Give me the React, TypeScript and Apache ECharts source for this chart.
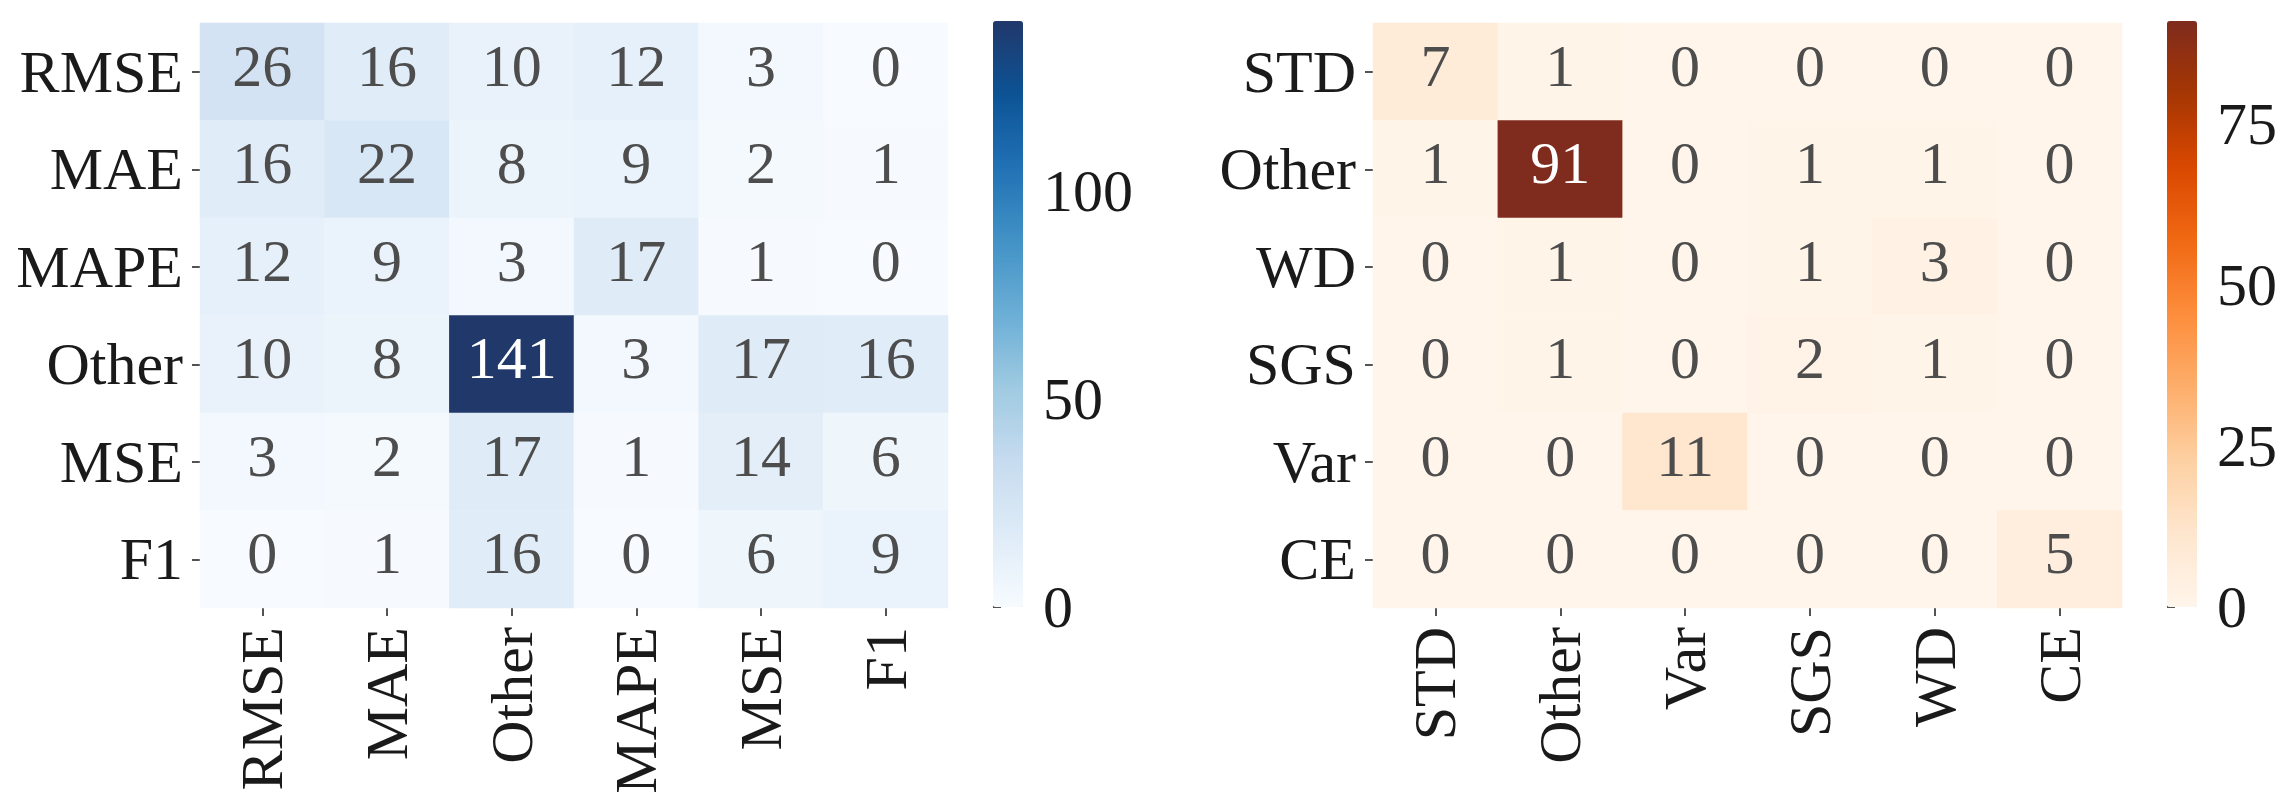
import React, { useEffect, useRef } from "react";
import * as echarts from "echarts";

const leftRows = ["RMSE", "MAE", "MAPE", "Other", "MSE", "F1"];
const leftCols = ["RMSE", "MAE", "Other", "MAPE", "MSE", "F1"];
const leftValues = [
  [26, 16, 10, 12, 3, 0],
  [16, 22, 8, 9, 2, 1],
  [12, 9, 3, 17, 1, 0],
  [10, 8, 141, 3, 17, 16],
  [3, 2, 17, 1, 14, 6],
  [0, 1, 16, 0, 6, 9],
];
const leftTicks = [0, 50, 100];

const rightRows = ["STD", "Other", "WD", "SGS", "Var", "CE"];
const rightCols = ["STD", "Other", "Var", "SGS", "WD", "CE"];
const rightValues = [
  [7, 1, 0, 0, 0, 0],
  [1, 91, 0, 1, 1, 0],
  [0, 1, 0, 1, 3, 0],
  [0, 1, 0, 2, 1, 0],
  [0, 0, 11, 0, 0, 0],
  [0, 0, 0, 0, 0, 5],
];
const rightTicks = [0, 25, 50, 75];

const BLUES = ["#f7fbff", "#deebf7", "#c6dbef", "#9ecae1", "#6baed6", "#4292c6", "#2171b5", "#0c5395", "#21386b"];
const ORANGES = ["#fff5eb", "#fee6ce", "#fdd0a2", "#fdae6b", "#fd8d3c", "#f16913", "#d94801", "#a63603", "#7f2b1d"];

const FONT = "'Liberation Serif', 'DejaVu Serif', serif";
const FS = 60;

function toData(m: number[][]) {
  const max = Math.max(...m.flat());
  const out: any[] = [];
  m.forEach((row, y) =>
    row.forEach((v, x) => {
      out.push({ value: [x, y, v], label: { color: v / max > 0.6 ? "#ffffff" : "#4d4d4d" } });
    })
  );
  return out;
}

export default function App() {
  const ref = useRef<HTMLDivElement>(null);
  useEffect(() => {
    const chart = echarts.init(ref.current!, null, { renderer: "svg" });
    const leftMax = Math.max(...leftValues.flat());
    const rightMax = Math.max(...rightValues.flat());
    const catAxisCommon = {
      type: "category" as const,
      axisLine: { show: false },
      axisTick: { show: true, length: 8, alignWithLabel: true, lineStyle: { color: "#1a1a1a", width: 1.5 } },
      splitLine: { show: false },
      splitArea: { show: false },
    };
    const labelFont = { fontFamily: FONT, fontSize: FS, color: "#1a1a1a" };
    const cbAxis = (gi: number, max: number, ticks: number[]) => ({
      type: "value" as const,
      gridIndex: gi,
      position: "right" as const,
      min: 0,
      max,
      axisLine: { show: false },
      splitLine: { show: false },
      axisTick: { show: true, length: 8, customValues: ticks, lineStyle: { color: "#1a1a1a", width: 1.5 } },
      axisLabel: { ...labelFont, margin: 20, customValues: ticks, padding: [4, 0, 0, 0] },
    });
    const cellLabel = {
      show: true,
      fontFamily: FONT,
      fontSize: FS,
      offset: [0, -6],
      formatter: (p: any) => String(p.value[2]),
    };
    const option: any = {
      animation: false,
      backgroundColor: "#ffffff",
      grid: [
        { left: 200, top: 23, width: 748, height: 585 },
        { left: 1373, top: 23, width: 749, height: 585 },
        { left: 993, top: 21, width: 30, height: 586 },
        { left: 2167, top: 21, width: 30, height: 586 },
      ],
      xAxis: [
        { ...catAxisCommon, gridIndex: 0, data: leftCols, axisLabel: { ...labelFont, rotate: 90, margin: 19, padding: [0, 0, 10, 0] } },
        { ...catAxisCommon, gridIndex: 1, data: rightCols, axisLabel: { ...labelFont, rotate: 90, margin: 19, padding: [0, 0, 10, 0] } },
        { type: "value", gridIndex: 2, show: false },
        { type: "value", gridIndex: 3, show: false },
      ],
      yAxis: [
        { ...catAxisCommon, gridIndex: 0, inverse: true, data: leftRows, axisLabel: { ...labelFont, margin: 17, padding: [0, 0, 11, 0] } },
        { ...catAxisCommon, gridIndex: 1, inverse: true, data: rightRows, axisLabel: { ...labelFont, margin: 17, padding: [0, 0, 11, 0] } },
        cbAxis(2, leftMax, leftTicks),
        cbAxis(3, rightMax, rightTicks),
      ],
      visualMap: [
        {
          type: "continuous",
          seriesIndex: 0,
          min: 0,
          max: leftMax,
          calculable: false,
          left: 993,
          top: 21,
          padding: 0,
          itemWidth: 30,
          itemHeight: 586,
          text: null,
          showLabel: false,
          inRange: { color: BLUES },
        },
        {
          type: "continuous",
          seriesIndex: 1,
          min: 0,
          max: rightMax,
          calculable: false,
          left: 2167,
          top: 21,
          padding: 0,
          itemWidth: 30,
          itemHeight: 586,
          text: null,
          showLabel: false,
          inRange: { color: ORANGES },
        },
      ],
      series: [
        {
          type: "heatmap",
          xAxisIndex: 0,
          yAxisIndex: 0,
          data: toData(leftValues),
          label: cellLabel,
          itemStyle: { borderWidth: 0 },
          emphasis: { disabled: true },
        },
        {
          type: "heatmap",
          xAxisIndex: 1,
          yAxisIndex: 1,
          data: toData(rightValues),
          label: cellLabel,
          itemStyle: { borderWidth: 0 },
          emphasis: { disabled: true },
        },
      ],
    };
    chart.setOption(option);
    return () => chart.dispose();
  }, []);
  return (
    <div
      ref={ref}
      style={{ position: "fixed", left: 0, top: 0, width: 2283, height: 810, background: "#fff" }}
    />
  );
}
